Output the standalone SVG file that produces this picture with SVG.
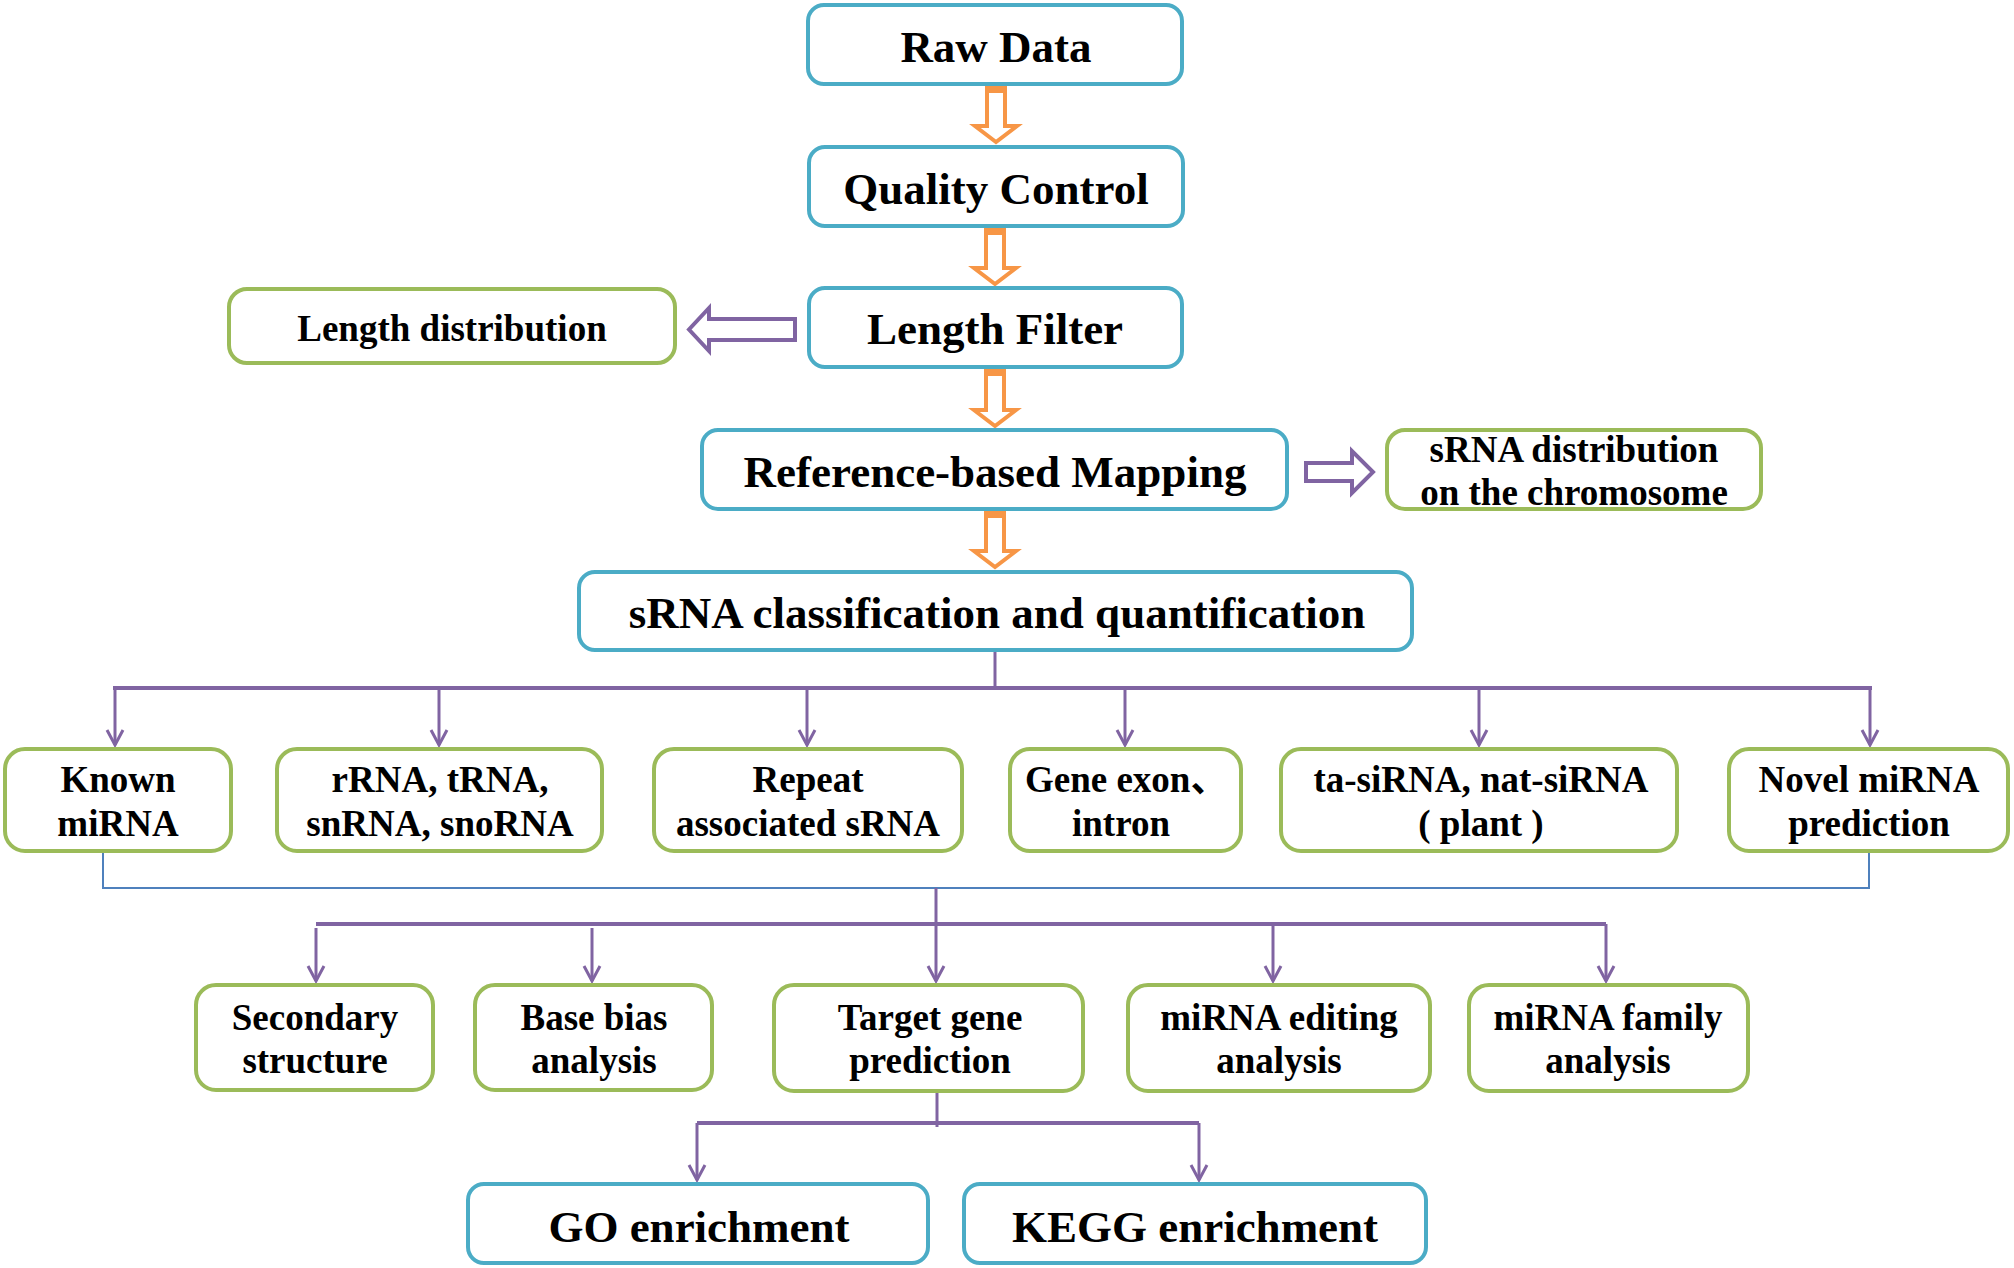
<svg xmlns="http://www.w3.org/2000/svg" width="2014" height="1268" viewBox="0 0 2014 1268">
<defs>
<style>
.bb{fill:#fff;stroke:#4BACC6;stroke-width:4}
.gb{fill:#fff;stroke:#9BBB59;stroke-width:4}
text{font-family:"Liberation Serif","Times New Roman","Noto Sans CJK SC",serif;font-weight:bold;fill:#000;text-anchor:middle}
.big{font-size:45px}
.sm{font-size:37px}
.oa{fill:#fff;stroke:#F79646;stroke-width:4;stroke-linejoin:miter}
.ob{fill:#F79646}
.pa{fill:#fff;stroke:#8064A2;stroke-width:4}
.pl{fill:none;stroke:#8064A2;stroke-width:3}
.pt{fill:none;stroke:#8064A2;stroke-width:4}
.bl{fill:none;stroke:#4F81BD;stroke-width:2}
</style>
<marker id="v" markerUnits="userSpaceOnUse" viewBox="-18 -11 20 22" refX="0" refY="0" markerWidth="20" markerHeight="22" orient="auto">
<path d="M-15,-8 L0,0 L-15,8" fill="none" stroke="#8064A2" stroke-width="3"/>
</marker>
</defs>
<rect width="2014" height="1268" fill="#fff"/>

<g id="connectors">
<!-- orange hollow arrows -->
<polygon class="oa" points="987,86 1005,86 1005,126 1017,126 996,142 975,126 987,126"/>
<rect class="ob" x="985" y="84" width="22" height="9"/>
<polygon class="oa" points="986,228 1004,228 1004,268 1016,268 995,284 974,268 986,268"/>
<rect class="ob" x="984" y="226" width="22" height="9"/>
<polygon class="oa" points="986,369 1004,369 1004,410 1016,410 995,426 974,410 986,410"/>
<rect class="ob" x="984" y="367" width="22" height="9"/>
<polygon class="oa" points="986,511 1004,511 1004,551 1016,551 995,567 974,551 986,551"/>
<rect class="ob" x="984" y="509" width="22" height="9"/>
<!-- purple hollow arrows -->
<polygon class="pa" points="795,319 709,319 709,308 689,329.5 709,351 709,340 795,340"/>
<polygon class="pa" points="1306,463 1352,463 1352,451 1373,472 1352,493 1352,481 1306,481"/>
<!-- tree 1 -->
<line class="pl" x1="995" y1="652" x2="995" y2="688"/>
<line class="pt" x1="113" y1="688" x2="1872" y2="688"/>
<line class="pl" x1="115" y1="688" x2="115" y2="745" marker-end="url(#v)"/>
<line class="pl" x1="439" y1="690" x2="439" y2="745" marker-end="url(#v)"/>
<line class="pl" x1="807" y1="690" x2="807" y2="745" marker-end="url(#v)"/>
<line class="pl" x1="1125" y1="690" x2="1125" y2="745" marker-end="url(#v)"/>
<line class="pl" x1="1479" y1="690" x2="1479" y2="745" marker-end="url(#v)"/>
<line class="pl" x1="1870" y1="688" x2="1870" y2="745" marker-end="url(#v)"/>
<!-- blue collector -->
<polyline class="bl" points="103,853 103,888 1869,888 1869,853"/>
<!-- tree 2 -->
<line class="pt" x1="316" y1="924" x2="1606" y2="924"/>
<line class="pl" x1="936" y1="888" x2="936" y2="981" marker-end="url(#v)"/>
<line class="pl" x1="316" y1="928" x2="316" y2="981" marker-end="url(#v)"/>
<line class="pl" x1="592" y1="928" x2="592" y2="981" marker-end="url(#v)"/>
<line class="pl" x1="1273" y1="926" x2="1273" y2="981" marker-end="url(#v)"/>
<line class="pl" x1="1606" y1="924" x2="1606" y2="981" marker-end="url(#v)"/>
<!-- tree 3 -->
<line class="pl" x1="937" y1="1093" x2="937" y2="1127"/>
<line class="pt" x1="697" y1="1123" x2="1199" y2="1123"/>
<line class="pl" x1="697" y1="1123" x2="697" y2="1180" marker-end="url(#v)"/>
<line class="pl" x1="1199" y1="1123" x2="1199" y2="1180" marker-end="url(#v)"/>
</g>

<g id="raw"><rect class="bb" x="808" y="5" width="374" height="79" rx="16"/><text class="big" x="996" y="62">Raw Data</text></g>
<g id="qc"><rect class="bb" x="809" y="147" width="374" height="79" rx="16"/><text class="big" x="996" y="204">Quality Control</text></g>
<g id="lf"><rect class="bb" x="809" y="288" width="373" height="79" rx="16"/><text class="big" x="995" y="344">Length Filter</text></g>
<g id="ld"><rect class="gb" x="229" y="289" width="446" height="74" rx="18"/><text class="sm" x="452" y="341">Length distribution</text></g>
<g id="map"><rect class="bb" x="702" y="430" width="585" height="79" rx="16"/><text class="big" x="995" y="487">Reference-based Mapping</text></g>
<g id="srd"><rect class="gb" x="1387" y="430" width="374" height="79" rx="18"/><text class="sm" x="1574" y="462">sRNA distribution</text><text class="sm" x="1574" y="505">on the chromosome</text></g>
<g id="cls"><rect class="bb" x="579" y="572" width="833" height="78" rx="16"/><text class="big" x="997" y="628">sRNA classification and quantification</text></g>

<g id="known"><rect class="gb" x="5" y="749" width="226" height="102" rx="20"/><text class="sm" x="118" y="792">Known</text><text class="sm" x="118" y="836">miRNA</text></g>
<g id="rrna"><rect class="gb" x="277" y="749" width="325" height="102" rx="20"/><text class="sm" x="440" y="792">rRNA, tRNA,</text><text class="sm" x="440" y="836">snRNA, snoRNA</text></g>
<g id="repeat"><rect class="gb" x="654" y="749" width="308" height="102" rx="20"/><text class="sm" x="808" y="792">Repeat</text><text class="sm" x="808" y="836">associated sRNA</text></g>
<g id="gene"><rect class="gb" x="1010" y="749" width="231" height="102" rx="20"/><text class="sm" x="1025" y="792" style="text-anchor:start">Gene exon、</text><text class="sm" x="1121" y="836">intron</text></g>
<g id="ta"><rect class="gb" x="1281" y="749" width="396" height="102" rx="20"/><text class="sm" x="1481" y="792">ta-siRNA, nat-siRNA</text><text class="sm" x="1481" y="836">( plant )</text></g>
<g id="novel"><rect class="gb" x="1729" y="749" width="279" height="102" rx="20"/><text class="sm" x="1869" y="792">Novel miRNA</text><text class="sm" x="1869" y="836">prediction</text></g>

<g id="sec"><rect class="gb" x="196" y="985" width="237" height="105" rx="20"/><text class="sm" x="315" y="1030">Secondary</text><text class="sm" x="315" y="1073">structure</text></g>
<g id="base"><rect class="gb" x="475" y="985" width="237" height="105" rx="20"/><text class="sm" x="594" y="1030">Base bias</text><text class="sm" x="594" y="1073">analysis</text></g>
<g id="target"><rect class="gb" x="774" y="985" width="309" height="106" rx="20"/><text class="sm" x="930" y="1030">Target gene</text><text class="sm" x="930" y="1073">prediction</text></g>
<g id="edit"><rect class="gb" x="1128" y="985" width="302" height="106" rx="20"/><text class="sm" x="1279" y="1030">miRNA editing</text><text class="sm" x="1279" y="1073">analysis</text></g>
<g id="family"><rect class="gb" x="1469" y="985" width="279" height="106" rx="20"/><text class="sm" x="1608" y="1030">miRNA family</text><text class="sm" x="1608" y="1073">analysis</text></g>

<g id="go"><rect class="bb" x="468" y="1184" width="460" height="79" rx="16"/><text class="big" x="699" y="1242">GO enrichment</text></g>
<g id="kegg"><rect class="bb" x="964" y="1184" width="462" height="79" rx="16"/><text class="big" x="1195" y="1242">KEGG enrichment</text></g>
</svg>
